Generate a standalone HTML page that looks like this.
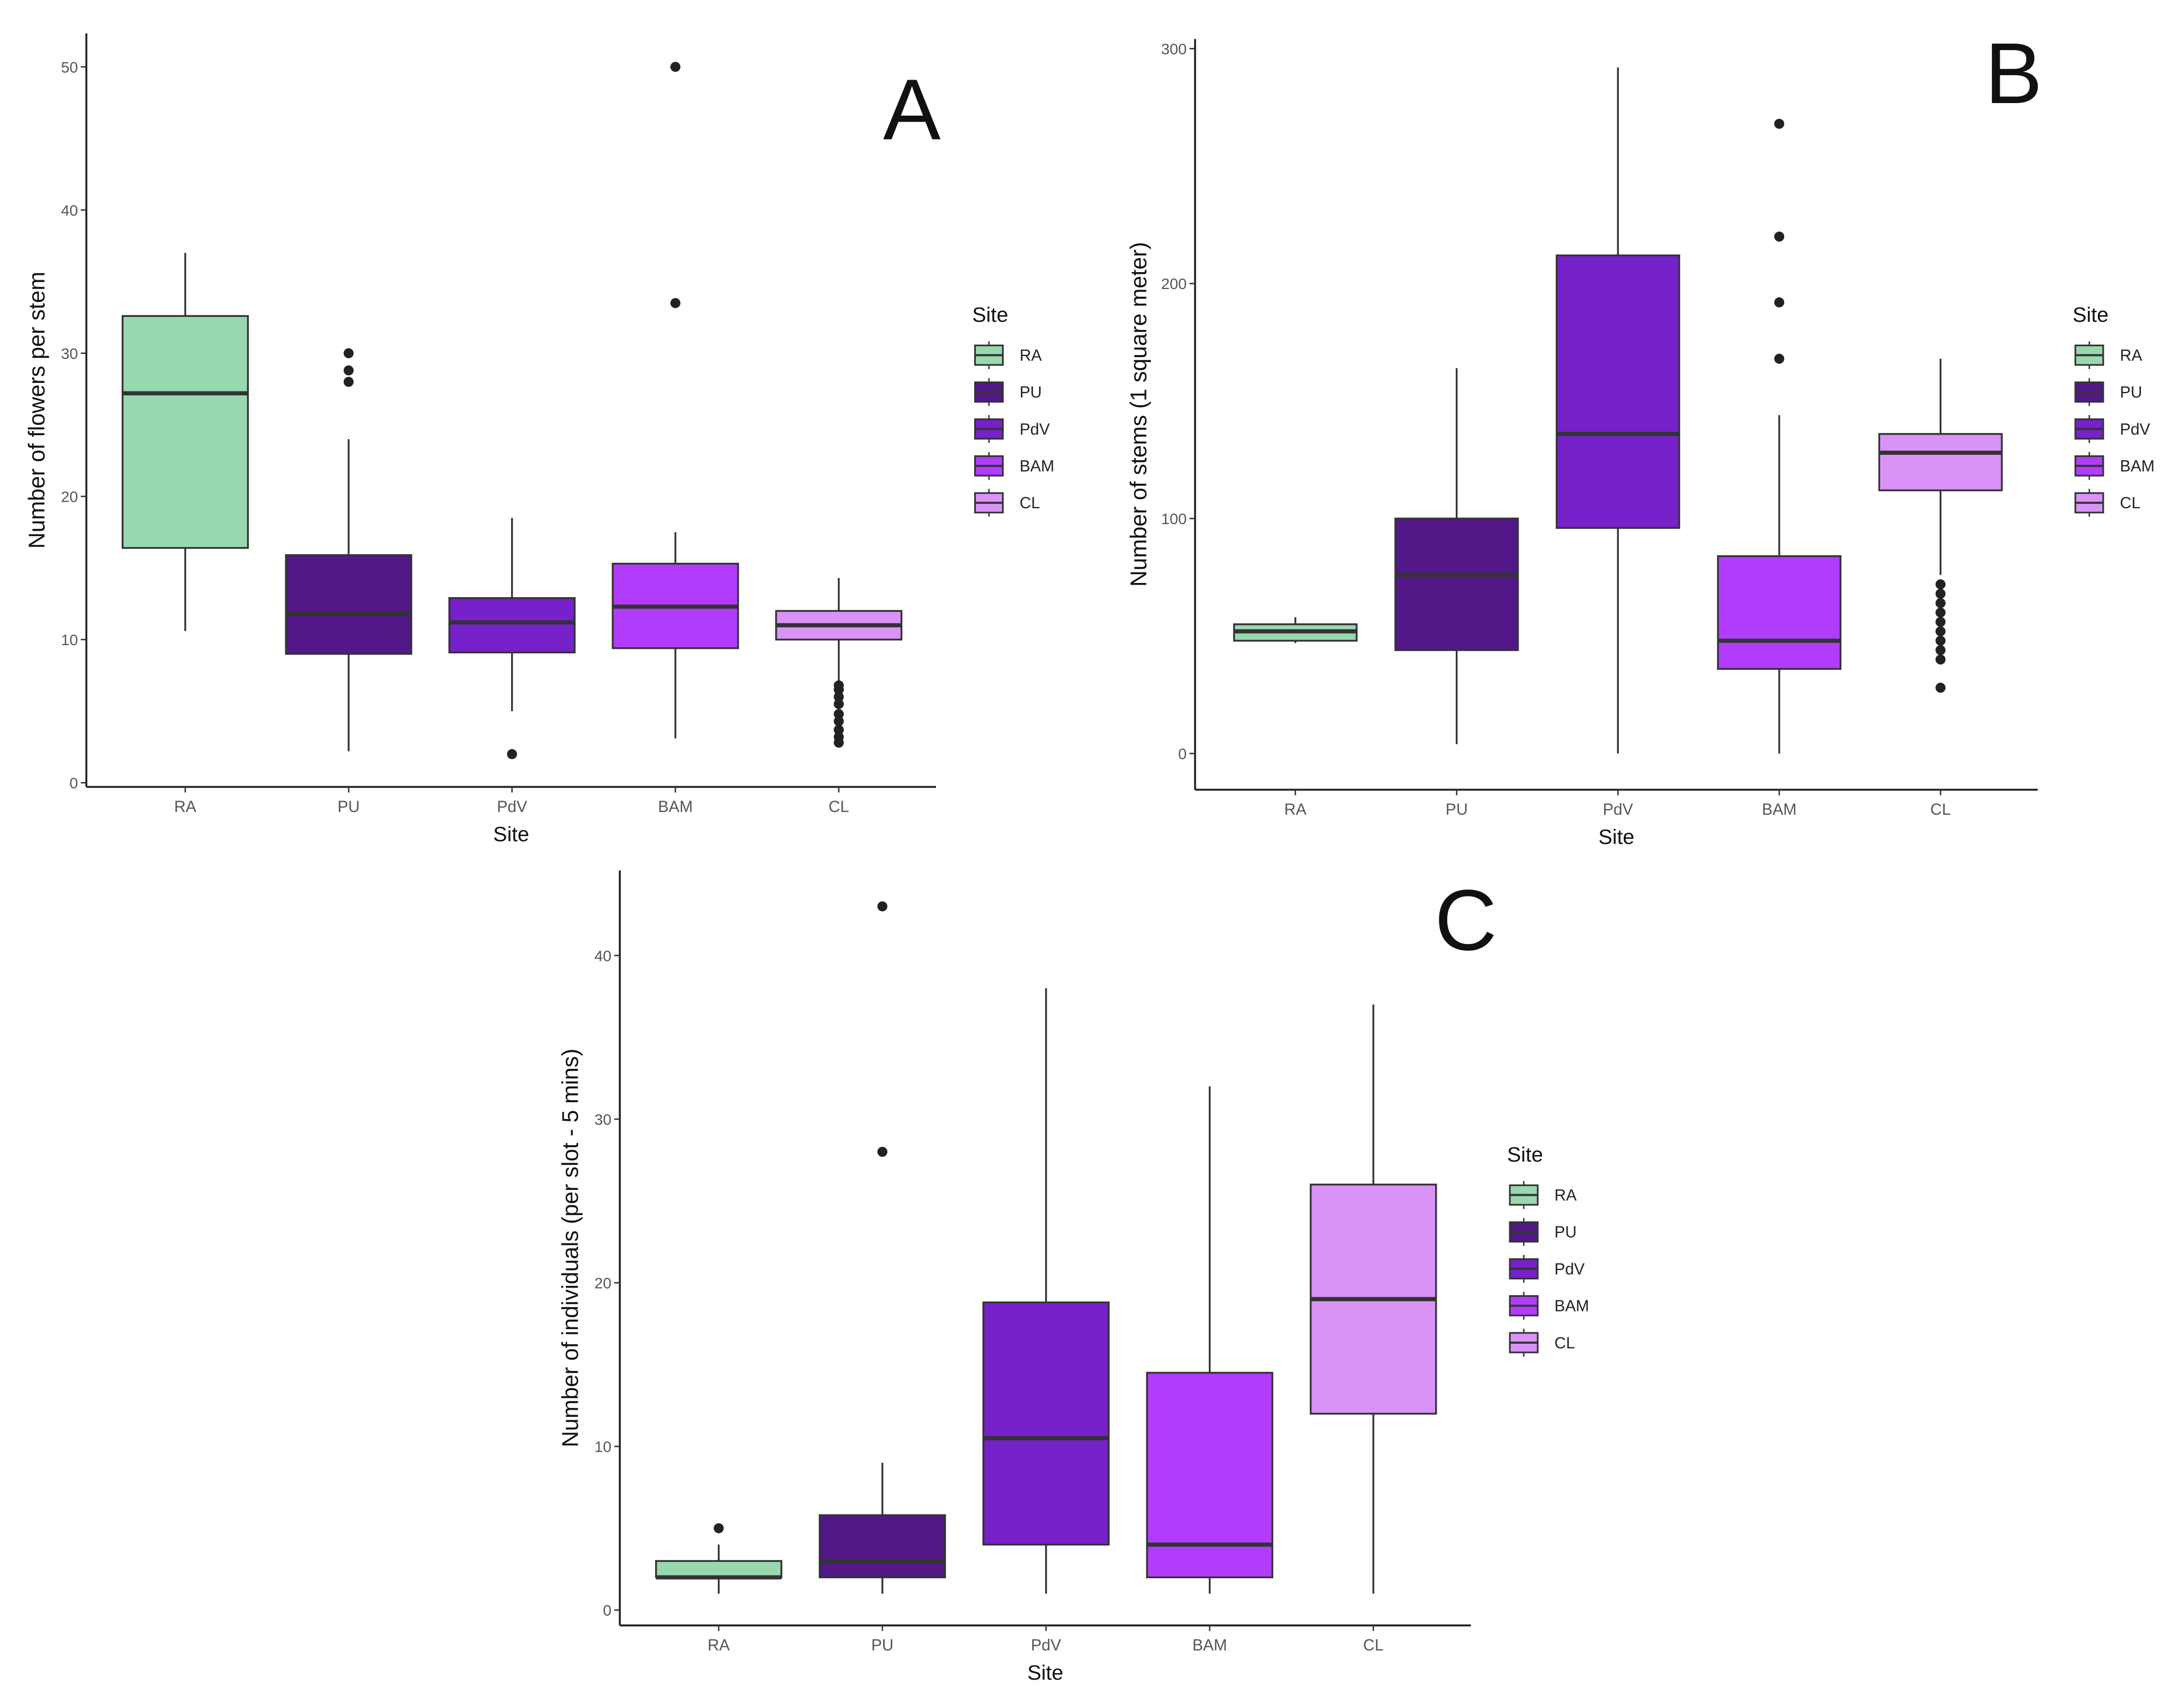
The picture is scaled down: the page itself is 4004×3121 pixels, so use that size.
<!DOCTYPE html>
<html><head><meta charset="utf-8"><style>
html,body{margin:0;padding:0;background:#fff;}
svg{display:block;font-family:"Liberation Sans",sans-serif;}
</style></head><body>
<svg id="fig" width="4004" height="3121" viewBox="0 0 1568 1222" preserveAspectRatio="none" xmlns="http://www.w3.org/2000/svg"></svg>
<script>
const sites = ["RA","PU","PdV","BAM","CL"];
const colors = ["#98d8ae","#521887","#7621c9","#b23cfc","#d993f7"];
// Panel A: flowers per stem
const aLow = [10.6, 2.2, 5, 3.1, 7];
const aQ1 = [16.4, 9, 9.1, 9.4, 10];
const aMed = [27.2, 11.8, 11.2, 12.3, 11];
const aQ3 = [32.6, 15.9, 12.9, 15.3, 12];
const aHigh = [37, 24, 18.5, 17.5, 14.3];
const aOut = [[], [28, 28.8, 30], [2], [33.5, 50], [2.8, 3.2, 3.7, 4.3, 4.8, 5.5, 6, 6.5, 6.8]];
const aTicks = [0, 10, 20, 30, 40, 50];
// Panel B: stems per square meter
const bLow = [47, 4, 0, 0, 76];
const bQ1 = [48, 44, 96, 36, 112];
const bMed = [52, 76, 136, 48, 128];
const bQ3 = [55, 100, 212, 84, 136];
const bHigh = [58, 164, 292, 144, 168];
const bOut = [[], [], [], [168, 192, 220, 268], [28, 40, 44, 48, 52, 56, 60, 64, 68, 72]];
const bTicks = [0, 100, 200, 300];
// Panel C: individuals per slot
const cLow = [1, 1, 1, 1, 1];
const cQ1 = [2, 2, 4, 2, 12];
const cMed = [2, 3, 10.5, 4, 19];
const cQ3 = [3, 5.8, 18.8, 14.5, 26];
const cHigh = [4, 9, 38, 32, 37];
const cOut = [[5], [28, 43], [], [], []];
const cTicks = [0, 10, 20, 30, 40];

const NS = "http://www.w3.org/2000/svg";
const svg = document.getElementById("fig");
function mk(tag, attrs, parent, text){
  const e = document.createElementNS(NS, tag);
  for (const k in attrs) e.setAttribute(k, attrs[k]);
  if (text !== undefined) e.textContent = text;
  (parent || svg).appendChild(e);
  return e;
}

function panel(cfg){
  const g = mk("g", {});
  
  
  const y = v => cfg.y0 - (v - cfg.vmin) * cfg.pxPer;
  const x = i => cfg.xFirst + i * cfg.xStep;
  const ya = mk("line", {x1: cfg.axX, y1: cfg.axTop, x2: cfg.axX, y2: cfg.axBot, stroke: "#222", "stroke-width": 1.4}, g);
  
  
  const xa = mk("line", {x1: cfg.axX, y1: cfg.axBot, x2: cfg.axRight, y2: cfg.axBot, stroke: "#222", "stroke-width": 1.4}, g);
  
  
  cfg.ticks.forEach(t => {
    mk("line", {x1: cfg.axX - 4, y1: y(t), x2: cfg.axX, y2: y(t), stroke: "#333", "stroke-width": 1}, g);
    const tl = mk("text", {x: cfg.axX - 6, y: y(t) + 4, "text-anchor": "end", "font-size": 11, fill: "#555"}, g, String(t));
    
    
  });
  sites.forEach((s, i) => {
    mk("line", {x1: x(i), y1: cfg.axBot, x2: x(i), y2: cfg.axBot + 4, stroke: "#333", "stroke-width": 1}, g);
    const xl = mk("text", {x: x(i), y: cfg.axBot + 18, "text-anchor": "middle", "font-size": 11.5, fill: "#555"}, g, s);
    
    
    const bw = cfg.boxW;
    const wl = mk("line", {x1: x(i), y1: y(cfg.high[i]), x2: x(i), y2: y(cfg.low[i]), stroke: "#333", "stroke-width": 1.3}, g);
    
    
    const r = mk("rect", {x: x(i) - bw/2, y: y(cfg.q3[i]), width: bw, height: Math.max(1, y(cfg.q1[i]) - y(cfg.q3[i])), fill: colors[i], stroke: "#333", "stroke-width": 1.3}, g);
    
    
    const m = mk("line", {x1: x(i) - bw/2, y1: y(cfg.med[i]), x2: x(i) + bw/2, y2: y(cfg.med[i]), stroke: "#333", "stroke-width": 3}, g);
    
    
    cfg.out[i].forEach(o => {
      const c = mk("circle", {cx: x(i), cy: y(o), r: 3.6, fill: "#222"}, g);
      
      
    });
  });
  const xt = mk("text", {x: (cfg.axX + cfg.axRight) / 2, y: cfg.axBot + 39, "text-anchor": "middle", "font-size": 15, fill: "#111"}, g, "Site");
  
  
  const yt = mk("text", {x: 0, y: 0, transform: `translate(${cfg.yTitleX},${(cfg.axTop + cfg.axBot) / 2}) rotate(-90)`, "text-anchor": "middle", "font-size": 16.2, fill: "#111"}, g, cfg.yTitle);
  
  
  const lt = mk("text", {x: cfg.letterX, y: cfg.letterY, "font-size": 62, fill: "#111"}, g, cfg.letter);
  
  
  const lg = mk("g", {}, g);
  
  
  const ltitle = mk("text", {x: cfg.legX, y: cfg.legY, "font-size": 15, fill: "#111"}, lg, "Site");
  
  
  sites.forEach((s, i) => {
    const ey = cfg.legY + 24 + i * 26.5;
    const e = mk("g", {}, lg);
    
    
    mk("line", {x1: cfg.legX + 12, y1: ey - 10, x2: cfg.legX + 12, y2: ey + 10, stroke: "#333", "stroke-width": 1}, e);
    mk("rect", {x: cfg.legX + 2, y: ey - 7, width: 20, height: 14, fill: colors[i], stroke: "#333", "stroke-width": 1.2}, e);
    mk("line", {x1: cfg.legX + 2, y1: ey, x2: cfg.legX + 22, y2: ey, stroke: "#333", "stroke-width": 1.5}, e);
    mk("text", {x: cfg.legX + 34, y: ey + 4, "font-size": 11.5, fill: "#222"}, e, s);
  });
}

panel({letter: "A", low: aLow, q1: aQ1, med: aMed, q3: aQ3, high: aHigh, out: aOut, ticks: aTicks,
  vmin: 0, y0: 562, pxPer: 10.28, xFirst: 133, xStep: 117.3, boxW: 90,
  axX: 62, axTop: 24, axBot: 565, axRight: 672, yTitleX: 32, yTitle: "Number of flowers per stem",
  legX: 698, legY: 231, letterX: 634, letterY: 100});
panel({letter: "B", low: bLow, q1: bQ1, med: bMed, q3: bQ3, high: bHigh, out: bOut, ticks: bTicks,
  vmin: 0, y0: 541, pxPer: 1.687, xFirst: 930, xStep: 115.8, boxW: 88,
  axX: 858, axTop: 28, axBot: 567, axRight: 1463, yTitleX: 823, yTitle: "Number of stems (1 square meter)",
  legX: 1488, legY: 231, letterX: 1425, letterY: 74});
panel({letter: "C", low: cLow, q1: cQ1, med: cMed, q3: cQ3, high: cHigh, out: cOut, ticks: cTicks,
  vmin: 0, y0: 1156, pxPer: 11.75, xFirst: 516, xStep: 117.5, boxW: 90,
  axX: 445, axTop: 625, axBot: 1167, axRight: 1056, yTitleX: 415, yTitle: "Number of individuals (per slot - 5 mins)",
  legX: 1082, legY: 834, letterX: 1030, letterY: 682});
</script>
</body></html>
